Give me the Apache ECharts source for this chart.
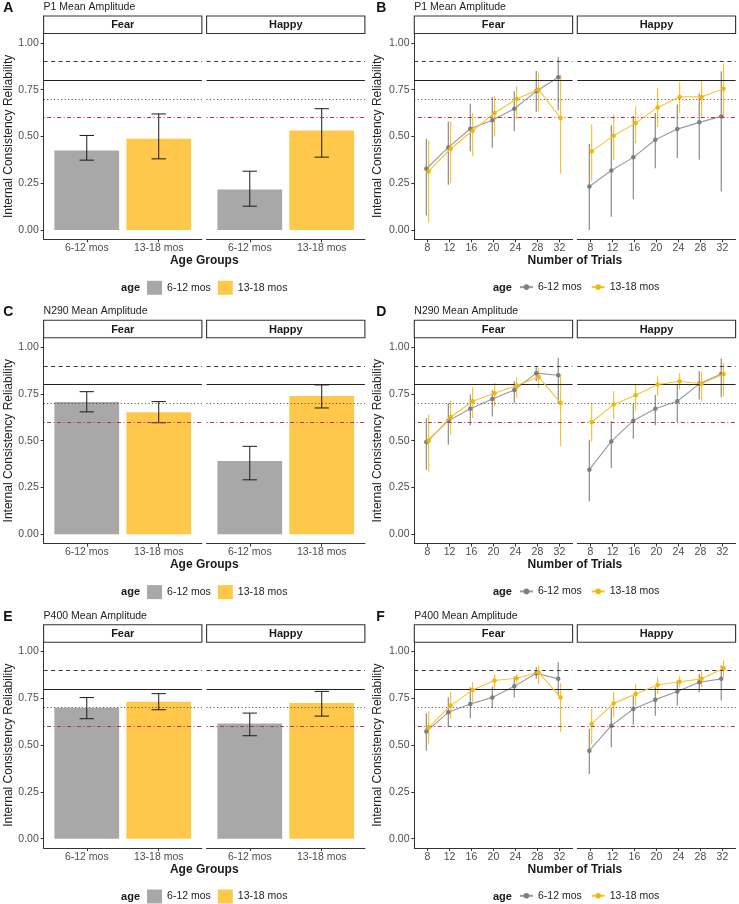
<!DOCTYPE html>
<html><head><meta charset="utf-8">
<script src="https://cdn.jsdelivr.net/npm/echarts@6.0.0/dist/echarts.min.js"></script>
<style>html,body{margin:0;padding:0;background:#fff}#c{width:739px;height:904px}</style>
</head><body><div id="c"></div>
<script>
// ---------- DATA ----------
const facets = ['Fear', 'Happy'];
const ageGroups = ['6-12 mos', '13-18 mos'];
const trials = [8, 12, 16, 20, 24, 28, 32];
const yTicks = [0, 0.25, 0.5, 0.75, 1.0];
const thresholds = [0.9, 0.8, 0.7, 0.6];
const panelTitles = ['P1 Mean Amplitude', 'N290 Mean Amplitude', 'P400 Mean Amplitude'];
const panelLetters = [['A', 'B'], ['C', 'D'], ['E', 'F']];

// Bar panels (A, C, E): mean / lower / upper, ordered as ageGroups
const p1BarFear = [0.425, 0.487], p1BarFearLo = [0.373, 0.380], p1BarFearHi = [0.505, 0.620];
const p1BarHappy = [0.216, 0.532], p1BarHappyLo = [0.127, 0.389], p1BarHappyHi = [0.314, 0.648];
const n290BarFear = [0.707, 0.652], n290BarFearLo = [0.654, 0.596], n290BarFearHi = [0.762, 0.709];
const n290BarHappy = [0.391, 0.739], n290BarHappyLo = [0.291, 0.675], n290BarHappyHi = [0.470, 0.798];
const p400BarFear = [0.700, 0.732], p400BarFearLo = [0.641, 0.689], p400BarFearHi = [0.754, 0.775];
const p400BarHappy = [0.616, 0.725], p400BarHappyLo = [0.550, 0.655], p400BarHappyHi = [0.671, 0.787];

// Line panels (B, D, F): by number of trials
const p1Fear612 = [0.327, 0.441, 0.541, 0.586, 0.648, 0.741, 0.816];
const p1Fear612Lo = [0.077, 0.241, 0.420, 0.440, 0.527, 0.630, 0.640];
const p1Fear612Hi = [0.488, 0.580, 0.675, 0.710, 0.741, 0.850, 0.925];
const p1Fear1318 = [0.313, 0.434, 0.530, 0.625, 0.700, 0.750, 0.598];
const p1Fear1318Lo = [0.040, 0.250, 0.396, 0.500, 0.593, 0.634, 0.300];
const p1Fear1318Hi = [0.480, 0.580, 0.625, 0.714, 0.768, 0.839, 0.830];
const p1Happy612 = [0.232, 0.318, 0.388, 0.482, 0.539, 0.575, 0.607];
const p1Happy612Lo = [0.000, 0.071, 0.164, 0.330, 0.384, 0.375, 0.205];
const p1Happy612Hi = [0.460, 0.560, 0.610, 0.625, 0.670, 0.730, 0.848];
const p1Happy1318 = [0.420, 0.504, 0.571, 0.655, 0.711, 0.711, 0.755];
const p1Happy1318Lo = [0.260, 0.375, 0.464, 0.550, 0.625, 0.598, 0.598];
const p1Happy1318Hi = [0.563, 0.616, 0.660, 0.759, 0.790, 0.800, 0.890];

const n290Fear612 = [0.493, 0.607, 0.671, 0.723, 0.771, 0.861, 0.850];
const n290Fear612Lo = [0.345, 0.479, 0.582, 0.630, 0.700, 0.818, 0.700];
const n290Fear612Hi = [0.620, 0.700, 0.746, 0.770, 0.818, 0.900, 0.943];
const n290Fear1318 = [0.500, 0.627, 0.711, 0.754, 0.795, 0.841, 0.702];
const n290Fear1318Lo = [0.336, 0.532, 0.620, 0.684, 0.729, 0.782, 0.470];
const n290Fear1318Hi = [0.640, 0.714, 0.786, 0.809, 0.839, 0.889, 0.854];
const n290Happy612 = [0.345, 0.496, 0.607, 0.671, 0.711, 0.804, 0.857];
const n290Happy612Lo = [0.175, 0.354, 0.511, 0.582, 0.600, 0.720, 0.732];
const n290Happy612Hi = [0.505, 0.604, 0.698, 0.746, 0.800, 0.871, 0.939];
const n290Happy1318 = [0.600, 0.693, 0.743, 0.800, 0.818, 0.804, 0.857];
const n290Happy1318Lo = [0.496, 0.613, 0.660, 0.738, 0.773, 0.710, 0.738];
const n290Happy1318Hi = [0.700, 0.764, 0.800, 0.845, 0.863, 0.870, 0.916];

const p400Fear612 = [0.573, 0.675, 0.720, 0.755, 0.814, 0.884, 0.854];
const p400Fear612Lo = [0.470, 0.598, 0.643, 0.698, 0.755, 0.854, 0.764];
const p400Fear612Hi = [0.670, 0.755, 0.809, 0.813, 0.866, 0.916, 0.943];
const p400Fear1318 = [0.595, 0.711, 0.795, 0.845, 0.857, 0.889, 0.755];
const p400Fear1318Lo = [0.505, 0.639, 0.729, 0.800, 0.827, 0.827, 0.570];
const p400Fear1318Hi = [0.680, 0.782, 0.836, 0.880, 0.880, 0.925, 0.830];
const p400Happy612 = [0.470, 0.604, 0.693, 0.743, 0.786, 0.836, 0.854];
const p400Happy612Lo = [0.345, 0.488, 0.609, 0.657, 0.711, 0.782, 0.738];
const p400Happy612Hi = [0.586, 0.700, 0.764, 0.809, 0.845, 0.880, 0.925];
const p400Happy1318 = [0.613, 0.723, 0.773, 0.821, 0.839, 0.854, 0.911];
const p400Happy1318Lo = [0.505, 0.648, 0.711, 0.773, 0.809, 0.809, 0.863];
const p400Happy1318Hi = [0.693, 0.782, 0.827, 0.863, 0.871, 0.898, 0.952];

// ---------- assembling ----------
const barSets = [
  [[p1BarFear, p1BarFearLo, p1BarFearHi], [p1BarHappy, p1BarHappyLo, p1BarHappyHi]],
  [[n290BarFear, n290BarFearLo, n290BarFearHi], [n290BarHappy, n290BarHappyLo, n290BarHappyHi]],
  [[p400BarFear, p400BarFearLo, p400BarFearHi], [p400BarHappy, p400BarHappyLo, p400BarHappyHi]]
];
const lineSets = [
  [[[p1Fear612, p1Fear612Lo, p1Fear612Hi], [p1Fear1318, p1Fear1318Lo, p1Fear1318Hi]],
   [[p1Happy612, p1Happy612Lo, p1Happy612Hi], [p1Happy1318, p1Happy1318Lo, p1Happy1318Hi]]],
  [[[n290Fear612, n290Fear612Lo, n290Fear612Hi], [n290Fear1318, n290Fear1318Lo, n290Fear1318Hi]],
   [[n290Happy612, n290Happy612Lo, n290Happy612Hi], [n290Happy1318, n290Happy1318Lo, n290Happy1318Hi]]],
  [[[p400Fear612, p400Fear612Lo, p400Fear612Hi], [p400Fear1318, p400Fear1318Lo, p400Fear1318Hi]],
   [[p400Happy612, p400Happy612Lo, p400Happy612Hi], [p400Happy1318, p400Happy1318Lo, p400Happy1318Hi]]]
];

// ---------- layout / style ----------
const FONT = "'Liberation Sans', Arial, Helvetica, sans-serif";
const W = 158.3, GAP = 4.7;
const COL_FEAR_LEFT = [43.6, 414.3];
const COL_START = [0, 369];
const LETTER_X = [3.3, 376.3];
const ROW_OFF = [0, 304.3, 608.7];
const PLOT_TOP = 33.5, PLOT_H = 205.8;
const STRIP_TOP = 16, STRIP_H = 17.5;
const BAR_COL = ['#A8A8A8', '#FFC84B'];
const LINE_COL = ['#9A9A9A', '#F6C535'];
const PT_COL = ['#7E7E7E', '#F2B705'];
const ERR_COL = ['rgba(110,110,110,0.8)', 'rgba(243,183,0,0.8)'];
const DODGE = [-0.21, 0.21];
const TH_STYLE = [
  {color: '#3c3c3c', type: [4, 3.5], width: 1},
  {color: '#222222', type: 'solid', width: 1},
  {color: '#444444', type: [1, 2.5], width: 1},
  {color: '#B8323F', type: [1, 2.5, 4, 2.5], width: 1}
];

const grid = [], xAxis = [], yAxis = [], series = [], legend = [], graphic = [];

function makeY(gi, showAxis) {
  return {
    type: 'value', gridIndex: gi, min: -0.05, max: 1.05,
    splitLine: {show: false},
    axisLine: {show: showAxis, onZero: false, lineStyle: {color: '#333', width: 1}},
    axisTick: {show: showAxis, customValues: yTicks, length: 3, lineStyle: {color: '#333'}},
    axisLabel: {show: showAxis, customValues: yTicks, formatter: v => Number(v).toFixed(2),
      fontSize: 10.5, color: '#4D4D4D', fontFamily: FONT, margin: 4.8}
  };
}
function makeX(gi, isBar) {
  const vals = isBar ? [1, 2] : trials;
  return {
    type: 'value', gridIndex: gi,
    min: isBar ? 0.4 : 5.6, max: isBar ? 2.6 : 34.4,
    splitLine: {show: false},
    axisLine: {show: true, onZero: false, lineStyle: {color: '#333', width: 1}},
    axisTick: {show: true, customValues: vals, length: 3, lineStyle: {color: '#333'}},
    axisLabel: {show: true, customValues: vals, formatter: v => isBar ? ageGroups[Math.round(v) - 1] : String(v),
      fontSize: 10.5, color: '#4D4D4D', fontFamily: FONT, margin: 3, lineHeight: 12}
  };
}
function thresholdSeries(gi, z) {
  return {
    type: 'line', xAxisIndex: gi, yAxisIndex: gi, data: [], silent: true, z: z,
    markLine: {
      silent: true, symbol: ['none', 'none'], label: {show: false}, animation: false,
      data: thresholds.map((t, i) => ({yAxis: t, lineStyle: TH_STYLE[i]}))
    }
  };
}

for (let r = 0; r < 3; r++) {
  for (let c = 0; c < 2; c++) {
    const isBar = c === 0;
    const rowY = ROW_OFF[r];
    const names = ageGroups.map(a => panelLetters[r][c] + '|' + a);
    for (let f = 0; f < 2; f++) {
      const gi = grid.length;
      const left = COL_FEAR_LEFT[c] + f * (W + GAP);
      grid.push({left: left, top: rowY + PLOT_TOP, width: W, height: PLOT_H});
      xAxis.push(makeX(gi, isBar));
      yAxis.push(makeY(gi, f === 0));
      if (isBar) {
        const [mean, lo, hi] = barSets[r][f];
        ageGroups.forEach((a, k) => {
          series.push({
            type: 'bar', name: names[k], xAxisIndex: gi, yAxisIndex: gi,
            data: [[k + 1, mean[k]]], barWidth: W * 0.9 / 2.2, barGap: '-100%',
            itemStyle: {color: BAR_COL[k]}, z: 2
          });
        });
        series.push(thresholdSeries(gi, 3));
        series.push({
          type: 'custom', xAxisIndex: gi, yAxisIndex: gi, z: 4, silent: true,
          data: ageGroups.map((a, k) => [k + 1, lo[k], hi[k]]),
          encode: {x: 0, y: [1, 2]},
          renderItem: function (params, api) {
            const x = api.value(0);
            const top = api.coord([x, api.value(2)]);
            const bot = api.coord([x, api.value(1)]);
            const half = api.size([0.2, 0])[0] / 2;
            const st = {stroke: '#1a1a1a', lineWidth: 1};
            return {type: 'group', children: [
              {type: 'line', shape: {x1: top[0], y1: top[1], x2: bot[0], y2: bot[1]}, style: st},
              {type: 'line', shape: {x1: top[0] - half, y1: top[1], x2: top[0] + half, y2: top[1]}, style: st},
              {type: 'line', shape: {x1: bot[0] - half, y1: bot[1], x2: bot[0] + half, y2: bot[1]}, style: st}
            ]};
          }
        });
      } else {
        series.push(thresholdSeries(gi, 1));
        ageGroups.forEach((a, k) => {
          const [mean, lo, hi] = lineSets[r][f][k];
          const ek = k;
          series.push({
            type: 'custom', xAxisIndex: gi, yAxisIndex: gi, z: 2 + k, silent: true,
            data: trials.map((t, i) => [t + DODGE[k], lo[i], hi[i]]),
            encode: {x: 0, y: [1, 2]},
            renderItem: function (params, api) {
              const x = api.value(0);
              const top = api.coord([x, api.value(2)]);
              const bot = api.coord([x, api.value(1)]);
              return {type: 'line', shape: {x1: top[0], y1: top[1], x2: bot[0], y2: bot[1]},
                style: {stroke: ERR_COL[ek], lineWidth: 1.2}};
            }
          });
          series.push({
            type: 'line', name: names[k], xAxisIndex: gi, yAxisIndex: gi, z: 4 + k,
            data: trials.map((t, i) => [t + DODGE[k], mean[i]]),
            symbol: 'circle', symbolSize: 4.5, showSymbol: true,
            lineStyle: {color: LINE_COL[k], width: 1.1},
            itemStyle: {color: PT_COL[k]}
          });
        });
      }
      // strip
      graphic.push({type: 'rect', shape: {x: left, y: rowY + STRIP_TOP, width: W, height: STRIP_H},
        style: {fill: '#fff', stroke: '#333', lineWidth: 1.1}, z: 10});
      graphic.push({type: 'text', x: left + W / 2, y: rowY + STRIP_TOP + STRIP_H / 2 + 0.5, z: 11,
        style: {text: facets[f], fontSize: 11, fontWeight: 'bold', fill: '#1a1a1a', fontFamily: FONT,
          align: 'center', verticalAlign: 'middle'}});
    }
    const panelLeft = COL_FEAR_LEFT[c];
    const panelCenter = panelLeft + W + GAP / 2;
    // letter & title
    graphic.push({type: 'text', x: LETTER_X[c], y: rowY + 8.3, z: 11,
      style: {text: panelLetters[r][c], fontSize: 14, fontWeight: 'bold', fill: '#111', fontFamily: FONT,
        align: 'left', verticalAlign: 'middle'}});
    graphic.push({type: 'text', x: panelLeft, y: rowY + 7, z: 11,
      style: {text: panelTitles[r], fontSize: 10.5, fill: '#222', fontFamily: FONT,
        align: 'left', verticalAlign: 'middle'}});
    // axis titles
    graphic.push({type: 'text', x: COL_START[c] + 8.7, y: rowY + PLOT_TOP + PLOT_H / 2, rotation: Math.PI / 2, z: 11,
      style: {text: 'Internal Consistency Reliability', fontSize: 12, fill: '#222', fontFamily: FONT,
        align: 'center', verticalAlign: 'middle'}});
    graphic.push({type: 'text', x: panelCenter, y: rowY + 260.5, z: 11,
      style: {text: isBar ? 'Age Groups' : 'Number of Trials', fontSize: 12, fontWeight: 'bold', fill: '#1a1a1a',
        fontFamily: FONT, align: 'center', verticalAlign: 'middle'}});
    // legend
    const keyLeft = panelCenter - (isBar ? 57.2 : 56);
    graphic.push({type: 'text', x: keyLeft - 7, y: rowY + 287.8, z: 11,
      style: {text: 'age', fontSize: 11, fontWeight: 'bold', fill: '#1a1a1a', fontFamily: FONT,
        align: 'right', verticalAlign: 'middle'}});
    const lg = {
      data: names, orient: 'horizontal', left: keyLeft,
      top: rowY + 287.8 - (isBar ? 7 : 6.2), padding: 0,
      itemWidth: isBar ? 15 : 13, itemHeight: isBar ? 14 : 7, itemGap: isBar ? 7 : 9,
      selectedMode: false,
      formatter: n => n.split('|')[1],
      textStyle: {fontSize: 10.5, color: '#222', fontFamily: FONT}
    };
    if (isBar) lg.icon = 'rect';
    legend.push(lg);
  }
}

const chart = echarts.init(document.getElementById('c'), null, {renderer: 'canvas'});
chart.setOption({
  animation: false,
  backgroundColor: '#fff',
  textStyle: {fontFamily: FONT},
  grid, xAxis, yAxis, series, legend, graphic
});
</script>
</body></html>
